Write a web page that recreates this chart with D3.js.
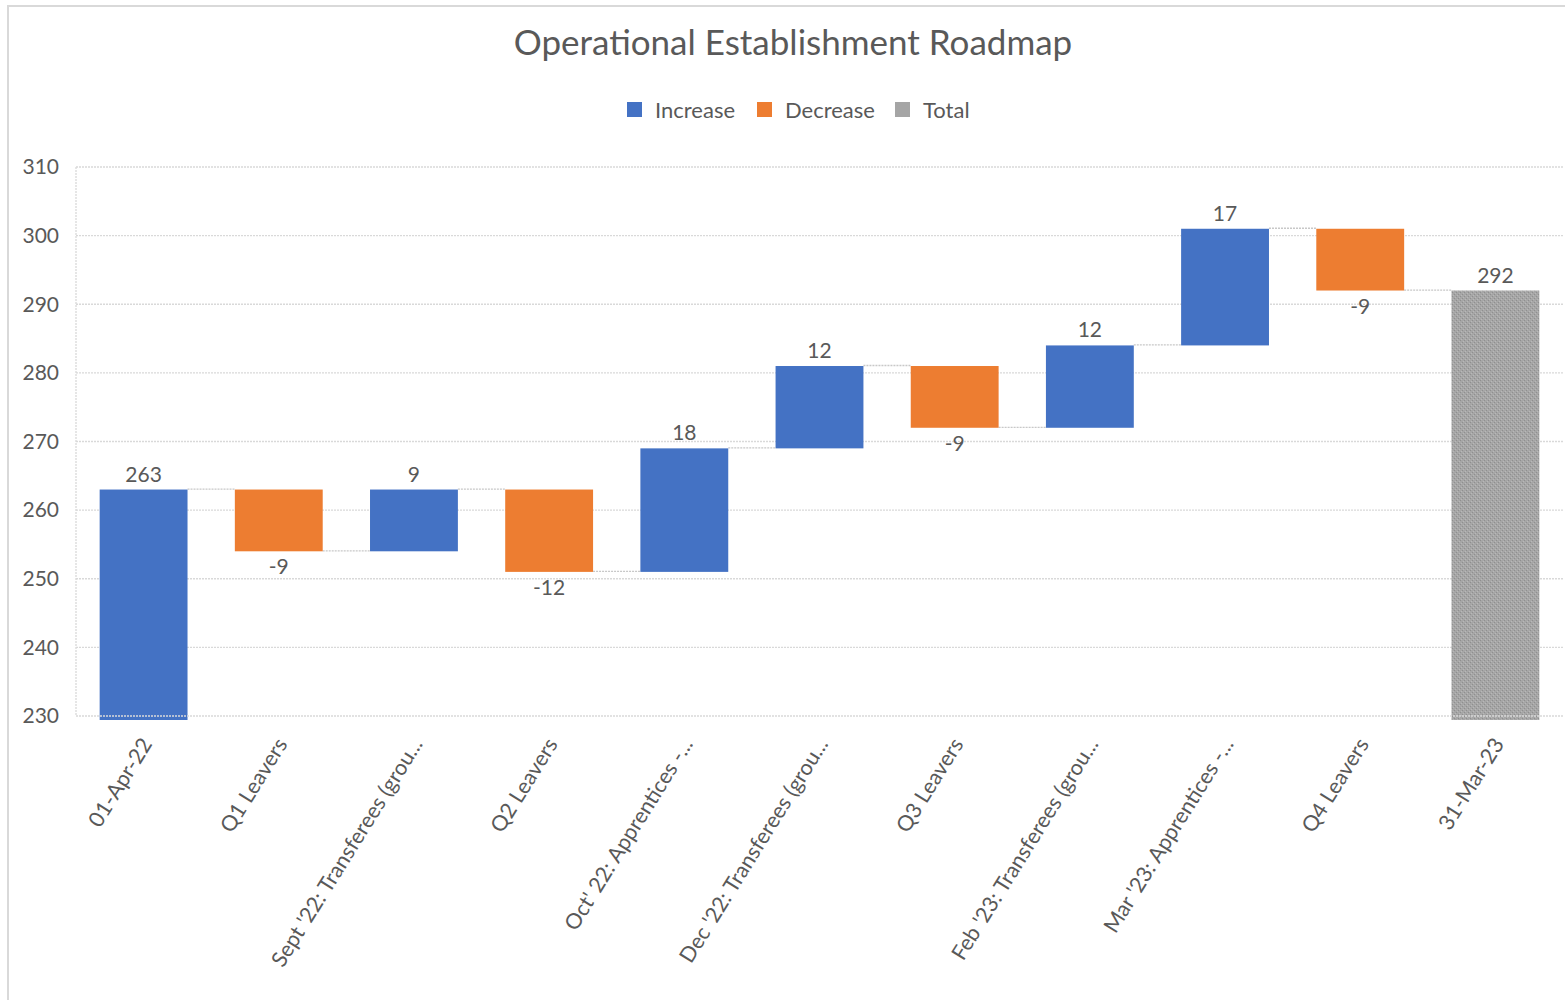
<!DOCTYPE html>
<html>
<head>
<meta charset="utf-8">
<script src="https://cdn.jsdelivr.net/npm/d3@7"></script>
<style>
  body { margin: 0; background: #fff; }
  text { font-family: Lato, "Noto Sans", sans-serif; fill: #595959; }
</style>
</head>
<body>
<div id="chart"></div>
<script>
// waterfall data
const categories = ["01-Apr-22", "Q1 Leavers", "Sept '22: Transferees (grou...", "Q2 Leavers",
  "Oct' 22: Apprentices -...", "Dec '22: Transferees (grou...", "Q3 Leavers",
  "Feb '23: Transferees (grou...", "Mar '23: Apprentices -...", "Q4 Leavers", "31-Mar-23"];
const values = [263, -9, 9, -12, 18, 12, -9, 12, 17, -9, 292];
const kinds = ["Increase", "Decrease", "Increase", "Decrease", "Increase", "Increase",
  "Decrease", "Increase", "Increase", "Decrease", "Total"];
const legendNames = ["Increase", "Decrease", "Total"];
const yTicks = [230, 240, 250, 260, 270, 280, 290, 300, 310];

const FRAME_WIDTH = 1565;
const FRAME_HEIGHT = 1000;
const PLOT = {left: 76, right: 1563, top: 167, bottom: 716};
const COLORS = {Increase: "#4472c4", Decrease: "#ed7d31", Total: "url(#totalFill)"};

const svg = d3.select("#chart")
  .append("svg")
    .attr("width", FRAME_WIDTH)
    .attr("height", FRAME_HEIGHT);

const defs = svg.append("defs");

// speckled grey for the total bar
const pat = defs.append("pattern")
  .attr("id", "totalFill")
  .attr("patternUnits", "userSpaceOnUse")
  .attr("width", 4).attr("height", 4);
pat.append("rect").attr("width", 4).attr("height", 4).attr("fill", "#a6a6a6");
pat.append("rect").attr("x", 0).attr("y", 0).attr("width", 1).attr("height", 1).attr("fill", "#8f8f8f");
pat.append("rect").attr("x", 2).attr("y", 2).attr("width", 1).attr("height", 1).attr("fill", "#8f8f8f");
pat.append("rect").attr("x", 1).attr("y", 3).attr("width", 1).attr("height", 1).attr("fill", "#b8b8b8");
pat.append("rect").attr("x", 3).attr("y", 1).attr("width", 1).attr("height", 1).attr("fill", "#b8b8b8");

defs.append("clipPath").attr("id", "plotClip")
  .append("rect")
    .attr("x", PLOT.left).attr("y", PLOT.top)
    .attr("width", PLOT.right - PLOT.left)
    .attr("height", PLOT.bottom - PLOT.top + 4);

// chart border
svg.append("path")
  .attr("d", "M8," + FRAME_HEIGHT + " V6 H" + FRAME_WIDTH)
  .attr("fill", "none")
  .attr("stroke", "#d9d9d9")
  .attr("stroke-width", 2);

// running totals
let running = 0;
const bars = values.map((v, i) => {
  let start, end;
  if (kinds[i] === "Total" || i === 0) {
    start = 0; end = v;
  } else {
    start = running; end = running + v;
  }
  running = end;
  return {cat: categories[i], value: v, kind: kinds[i], start: start, end: end};
});

const X_SCALE = d3.scaleBand()
  .domain(categories)
  .range([PLOT.left, PLOT.right])
  .paddingInner(0.35)
  .paddingOuter(0.175);

const Y_SCALE = d3.scaleLinear()
  .domain([230, 310])
  .range([PLOT.bottom, PLOT.top]);

// gridlines
svg.append("g")
  .selectAll("line")
  .data(yTicks.filter(t => t !== 230))
  .enter()
  .append("line")
    .attr("x1", PLOT.left).attr("x2", PLOT.right)
    .attr("y1", d => Y_SCALE(d)).attr("y2", d => Y_SCALE(d))
    .attr("stroke", "#d9d9d9")
    .attr("stroke-width", 1.3)
    .attr("stroke-dasharray", "2,1");

// left edge of plot area
svg.append("line")
  .attr("x1", PLOT.left).attr("x2", PLOT.left)
  .attr("y1", PLOT.top).attr("y2", PLOT.bottom)
  .attr("stroke", "#d9d9d9")
  .attr("stroke-width", 1.3)
  .attr("stroke-dasharray", "2,1");

// y tick labels
svg.append("g")
  .selectAll("text")
  .data(yTicks)
  .enter()
  .append("text")
    .attr("x", 59)
    .attr("y", d => Y_SCALE(d))
    .attr("dy", "0.35em")
    .attr("text-anchor", "end")
    .attr("font-size", "21px")
    .text(d => d);

// connectors between bars
svg.append("g")
  .selectAll("line")
  .data(bars.slice(0, -1))
  .enter()
  .append("line")
    .attr("x1", d => X_SCALE(d.cat) + X_SCALE.bandwidth())
    .attr("x2", (d, i) => X_SCALE(categories[i + 1]))
    .attr("y1", d => Y_SCALE(d.end) - 0.5)
    .attr("y2", d => Y_SCALE(d.end) - 0.5)
    .attr("stroke", "#c8c8c8")
    .attr("stroke-width", 1.3)
    .attr("stroke-dasharray", "2,1");

// bars
svg.append("g")
  .attr("clip-path", "url(#plotClip)")
  .selectAll("rect")
  .data(bars)
  .enter()
  .append("rect")
    .attr("x", d => X_SCALE(d.cat))
    .attr("y", d => Y_SCALE(Math.max(d.start, d.end)))
    .attr("width", X_SCALE.bandwidth())
    .attr("height", d => Math.abs(Y_SCALE(d.start) - Y_SCALE(d.end)))
    .attr("fill", d => COLORS[d.kind]);

// baseline gridline drawn over the bars
svg.append("line")
  .attr("x1", PLOT.left).attr("x2", PLOT.right)
  .attr("y1", Y_SCALE(230)).attr("y2", Y_SCALE(230))
  .attr("stroke", "#d9d9d9")
  .attr("stroke-width", 1.3)
  .attr("stroke-dasharray", "2,1");

// data labels
svg.append("g")
  .selectAll("text")
  .data(bars)
  .enter()
  .append("text")
    .attr("x", d => X_SCALE(d.cat) + X_SCALE.bandwidth() / 2)
    .attr("y", d => d.kind === "Decrease"
      ? Y_SCALE(Math.min(d.start, d.end)) + 23
      : Y_SCALE(Math.max(d.start, d.end)) - 8)
    .attr("text-anchor", "middle")
    .attr("font-size", "21px")
    .text(d => d.value);

// category labels
svg.append("g")
  .selectAll("text")
  .data(categories)
  .enter()
  .append("text")
    .attr("transform", d => "translate(" + (X_SCALE(d) + X_SCALE.bandwidth() / 2 + 3) + ",740) rotate(-58)")
    .attr("dy", "0.35em")
    .attr("text-anchor", "end")
    .attr("font-size", "21.5px")
    .text(d => d);

// title
svg.append("text")
  .attr("x", 793)
  .attr("y", 55)
  .attr("text-anchor", "middle")
  .attr("font-size", "35px")
  .text("Operational Establishment Roadmap");

// legend
const legendX = [627, 757, 895];
const legendColors = ["#4472c4", "#ed7d31", "#a5a5a5"];
const legend = svg.append("g")
  .selectAll("g")
  .data(legendNames)
  .enter()
  .append("g")
    .attr("transform", (d, i) => "translate(" + legendX[i] + ",102)");
legend.append("rect")
  .attr("width", 15).attr("height", 15)
  .attr("fill", (d, i) => legendColors[i]);
legend.append("text")
  .attr("x", 28).attr("y", 8)
  .attr("dy", "0.35em")
  .attr("font-size", "22px")
  .text(d => d);
</script>
</body>
</html>
